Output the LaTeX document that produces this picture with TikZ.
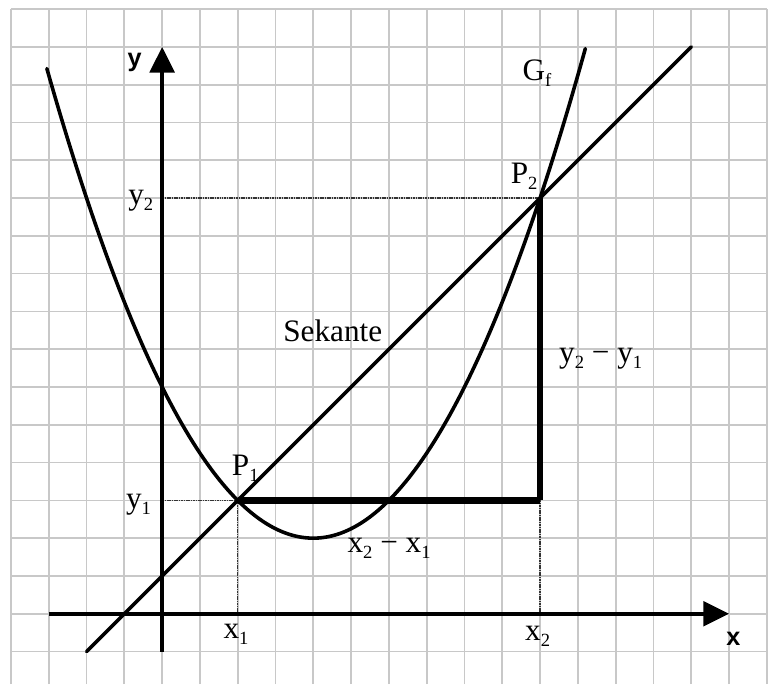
\documentclass[tikz,border=0pt]{standalone}
\usepackage{fontspec}
\setmainfont{Liberation Serif}
\newfontfamily\axisfont{Liberation Sans}
\usetikzlibrary{arrows.meta}
\definecolor{gridc}{RGB}{200,200,200}
\newcommand\lowidx[1]{\raisebox{-4.5pt}{\fontsize{14}{14}\selectfont #1}}
\tikzset{
  gridline/.style={draw=gridc, line width=1.3pt},
  axisline/.style={line width=2.8pt, -{Triangle[length=0.68cm,width=0.65cm]}},
  curveline/.style={line width=2.7pt, line cap=round, line join=round},
  thickline/.style={line width=4.8pt},
  helpline/.style={line width=0.9pt, draw=black!80, dash pattern=on 1.2pt off 0.6pt},
  lbl/.style={anchor=base west, inner sep=0pt, font=\fontsize{23.5}{27}\selectfont},
  axlbl/.style={anchor=base west, inner sep=0pt, font=\fontsize{19}{22}\selectfont\axisfont\bfseries},
}
\begin{document}
\begin{tikzpicture}[x=1cm,y=1cm]
\useasboundingbox (-4.29,-1.86) rectangle (16.19,16.24);
\fill[white] (-4.29,-1.86) rectangle (16.19,16.24);
% grid
\draw[gridline] (-4,-1.86) grid (16,16);
% coordinates
\coordinate (O) at (0,0);
\coordinate (xs) at (-3,0);
\coordinate (xe) at (15,0);
\coordinate (ys) at (0,-1);
\coordinate (ye) at (0,15);
\coordinate (P1) at (2,3);
\coordinate (P2) at (10,11);
\coordinate (C) at (10,3);
\coordinate (X1) at (2,0);
\coordinate (X2) at (10,0);
\coordinate (Y1) at (0,3);
\coordinate (Y2) at (0,11);
\coordinate (Ss) at (-2,-1);
\coordinate (Se) at (14,15);
% helper dotted lines
\draw[helpline] (Y2) -- (P2);
\draw[helpline] (Y1) -- (P1);
\draw[helpline] (P1) -- (X1);
\draw[helpline] (C) -- (X2);
% axes
\draw[axisline] (xs) -- (xe);
\draw[axisline] (ys) -- (ye);
% thick legs
\draw[thickline] (P1) -- (C);
\draw[thickline] (C) -- (P2);
% secant
\draw[curveline] (Ss) -- (Se);
% parabola
\draw[curveline] plot[domain=-3.05:11.2, samples=120, smooth] (\x, {0.25*(\x-4)^2+2});
% labels
\node[axlbl] (ylab) at (-0.92,14.47) {y};
\node[axlbl] (xlab) at (14.92,-0.85) {x};
\node[lbl] (y2lab) at (-0.9,10.82) {y\lowidx{2}};
\node[lbl] (y1lab) at (-0.96,2.78) {y\lowidx{1}};
\node[lbl] (x1lab) at (1.62,-0.65) {x\lowidx{1}};
\node[lbl] (x2lab) at (9.6,-0.72) {x\lowidx{2}};
\node[lbl] (p1lab) at (1.84,3.65) {P\lowidx{1}};
\node[lbl] (p2lab) at (9.22,11.38) {P\lowidx{2}};
\node[lbl] (gflab) at (9.53,14.1) {G\lowidx{f}};
\node[lbl] (sek) at (3.2,7.2) {Sekante};
\node[lbl] (dx) at (4.9,1.61) {x\lowidx{2} − x\lowidx{1}};
\node[lbl] (dy) at (10.5,6.64) {y\lowidx{2} − y\lowidx{1}};
\end{tikzpicture}
\end{document}
